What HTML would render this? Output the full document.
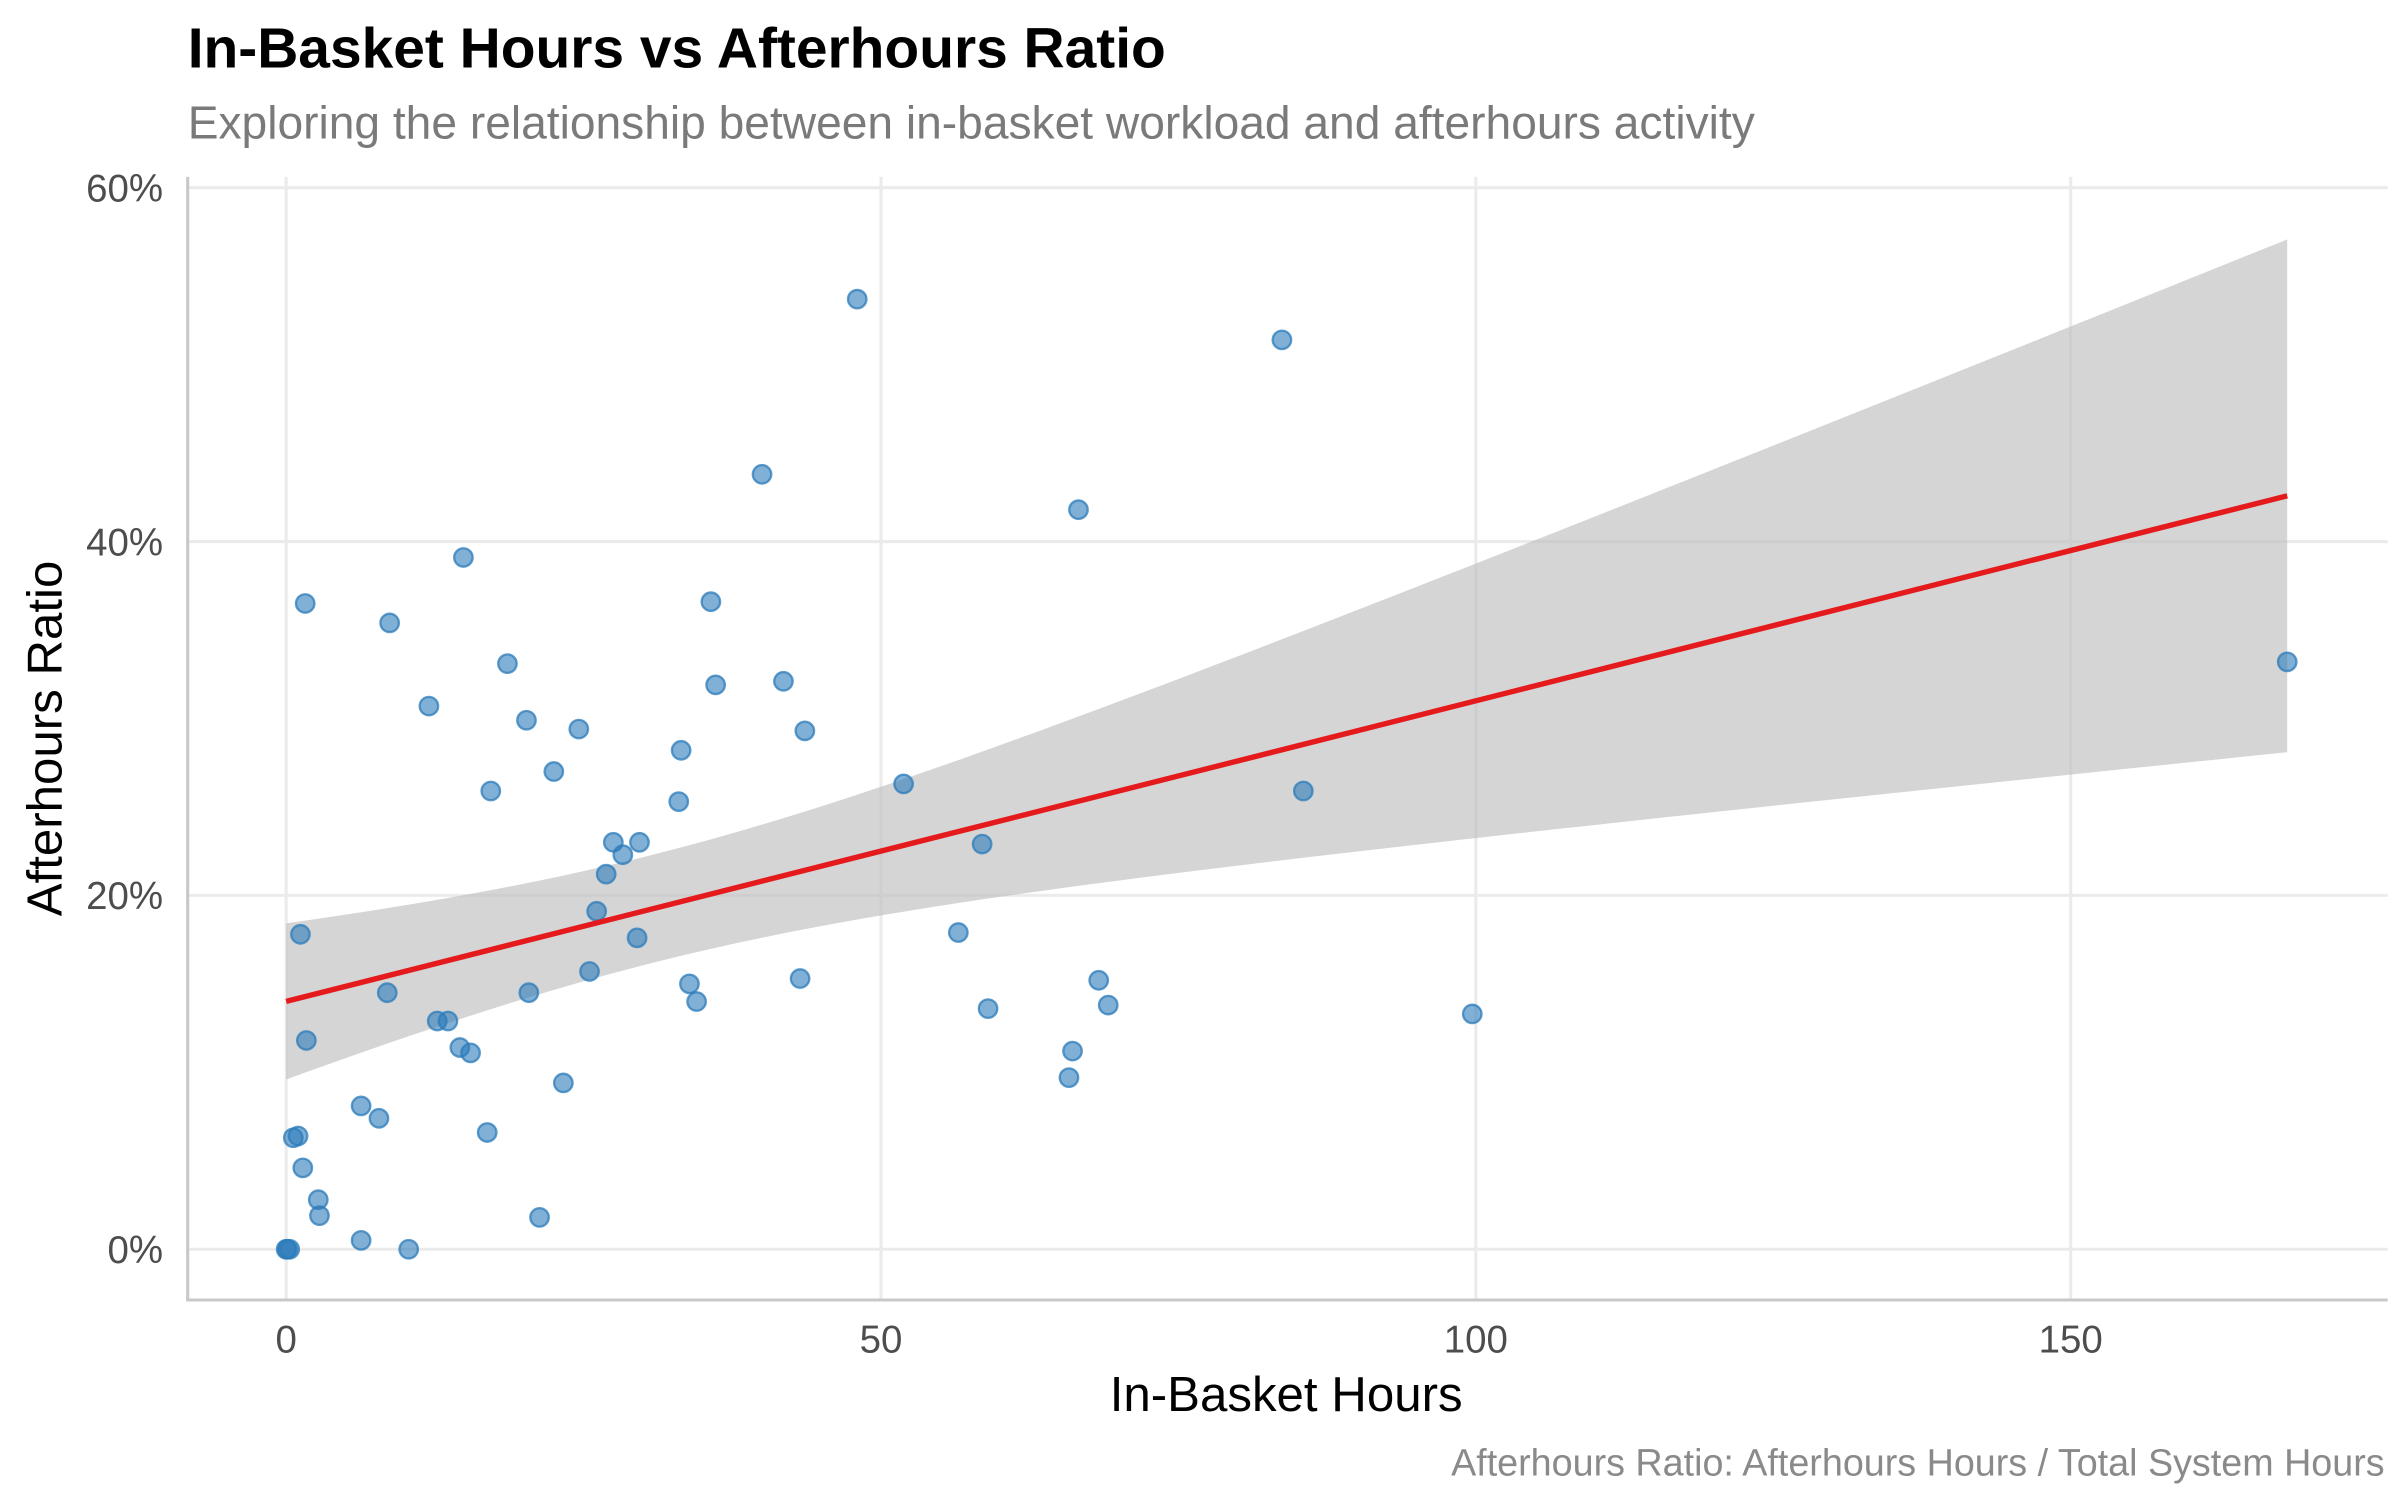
<!DOCTYPE html>
<html><head><meta charset="utf-8"><style>
html,body{margin:0;padding:0;background:#fff;}
svg{display:block;font-family:"Liberation Sans",Arial,sans-serif;}
</style></head><body>
<svg id="chart" width="2400" height="1500" viewBox="0 0 1560 975" xmlns="http://www.w3.org/2000/svg">
<text x="122" y="44" font-size="37" font-weight="bold" fill="#000">In-Basket Hours vs Afterhours Ratio</text>
<text x="122" y="90" font-size="30" fill="#7a7a7a">Exploring the relationship between in-basket workload and afterhours activity</text>
<g id="grid"></g>
<g id="band"></g>
<g id="points"></g>
<g id="axes"></g>
<text x="836" y="917" font-size="32" text-anchor="middle" fill="#000">In-Basket Hours</text>
<text transform="translate(40,480) rotate(-90)" font-size="32" text-anchor="middle" fill="#000">Afterhours Ratio</text>
<text x="1550" y="959" font-size="24.5" text-anchor="end" fill="#8a8a8a">Afterhours Ratio: Afterhours Hours / Total System Hours</text>
</svg>
<script>
const xVals=[0,0.1,0.3,0.6,1.0,1.2,1.4,1.6,1.7,2.7,2.8,6.3,6.3,7.8,8.5,8.7,10.3,12.0,12.7,13.6,14.6,14.9,15.5,16.9,17.2,18.6,20.2,20.4,21.3,22.5,23.3,24.6,25.5,26.1,26.9,27.5,28.3,29.5,29.7,33.0,33.2,33.9,34.5,35.7,36.1,40.0,41.8,43.2,43.6,48.0,51.9,56.5,58.5,59.0,65.8,66.1,66.6,68.3,69.1,83.7,85.5,99.7,168.2];
const yVals=[0,0,0,6.3,6.4,17.8,4.6,36.5,11.8,2.8,1.9,8.1,0.5,7.4,14.5,35.4,0,30.7,12.9,12.9,11.4,39.1,11.1,6.6,25.9,33.1,29.9,14.5,1.8,27.0,9.4,29.4,15.7,19.1,21.2,23.0,22.3,17.6,23.0,25.3,28.2,15.0,14.0,36.6,31.9,43.8,32.1,15.3,29.3,53.7,26.3,17.9,22.9,13.6,9.7,11.2,41.8,15.2,13.8,51.4,25.9,13.3,33.2];
const xTicks=[0,50,100,150];
const xTickLabels=["0","50","100","150"];
const yTicks=[0,20,40,60];
const yTickLabels=["0%","20%","40%","60%"];
const NS="http://www.w3.org/2000/svg";
const X=v=>186+v*7.733, Y=v=>812-v*11.5;
const L=122,R=1552,T=115,B=845;
function mk(t,a,p){const e=document.createElementNS(NS,t);for(const k in a)e.setAttribute(k,a[k]);p.appendChild(e);return e;}
const grid=document.getElementById('grid');
xTicks.forEach(v=>{const l=mk('line',{x1:X(v),x2:X(v),y1:T,y2:B,stroke:'#ebebeb','stroke-width':2},grid);

});
yTicks.forEach(v=>{const l=mk('line',{x1:L,x2:R,y1:Y(v),y2:Y(v),stroke:'#ebebeb','stroke-width':2},grid);

});
const n=xVals.length;const mx=xVals.reduce((a,b)=>a+b)/n,my=yVals.reduce((a,b)=>a+b)/n;
let sxx=0,sxy=0;for(let i=0;i<n;i++){sxx+=(xVals[i]-mx)**2;sxy+=(xVals[i]-mx)*(yVals[i]-my);}
const b1=sxy/sxx,b0=my-b1*mx;let sse=0;for(let i=0;i<n;i++)sse+=(yVals[i]-b0-b1*xVals[i])**2;
const s=Math.sqrt(sse/(n-2)),t=2.0;
const xmin=Math.min(...xVals),xmax=Math.max(...xVals);
const up=[],lo=[];
for(let k=0;k<=80;k++){const x=xmin+(xmax-xmin)*k/80;const f=b0+b1*x;const se=s*Math.sqrt(1/n+(x-mx)**2/sxx);
up.push(X(x)+','+Y(f+t*se));lo.unshift(X(x)+','+Y(f-t*se));}
const band=document.getElementById('band');
const poly=mk('polygon',{points:up.concat(lo).join(' '),fill:'#bfbfbf','fill-opacity':0.65},band);


const pts=document.getElementById('points');
for(let i=0;i<n;i++){const c=mk('circle',{cx:X(xVals[i]),cy:Y(yVals[i]),r:6,fill:'#2b7bba','fill-opacity':0.6,stroke:'#2b7bba','stroke-opacity':0.75,'stroke-width':1.5},pts);

}
const rl=mk('line',{x1:X(xmin),y1:Y(b0+b1*xmin),x2:X(xmax),y2:Y(b0+b1*xmax),stroke:'#e41a1c','stroke-width':3.5},pts);


const axes=document.getElementById('axes');
const ya=mk('line',{x1:L,x2:L,y1:T,y2:B,stroke:'#c8c8c8','stroke-width':2},axes);


const xa=mk('line',{x1:L-1,x2:R,y1:B,y2:B,stroke:'#c8c8c8','stroke-width':2},axes);


xTicks.forEach((v,i)=>{const tx=mk('text',{x:X(v),y:879,'font-size':25,'text-anchor':'middle',fill:'#4d4d4d'},axes);tx.textContent=xTickLabels[i];

});
yTicks.forEach((v,i)=>{const tx=mk('text',{x:106,y:Y(v)+9,'font-size':25,'text-anchor':'end',fill:'#4d4d4d'},axes);tx.textContent=yTickLabels[i];

});
</script>
</body></html>
